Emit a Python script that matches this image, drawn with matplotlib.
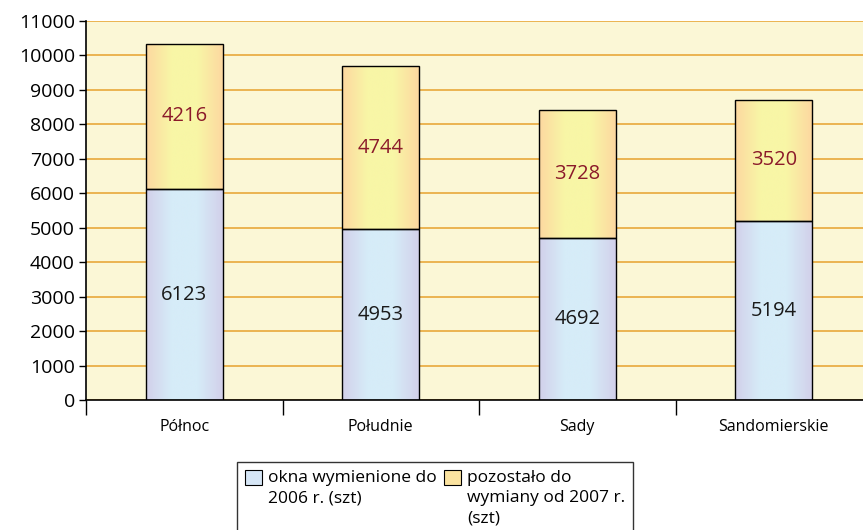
import numpy as np
import matplotlib.pyplot as plt
from matplotlib.colors import LinearSegmentedColormap
from matplotlib.patches import Patch

plt.rcParams['font.family'] = ['Open Sans', 'DejaVu Sans']

categories = ['Północ', 'Południe', 'Sady', 'Sandomierskie']
replaced = [6123, 4953, 4692, 5194]
remaining = [4216, 4744, 3728, 3520]
series_names = ['okna wymienione do\n2006 r. (szt)', 'pozostało do\nwymiany od 2007 r.\n(szt)']

blue_cmap = LinearSegmentedColormap.from_list('b', ['#d2d0ea', '#d6ecf8', '#d6ecf8', '#d2d0ea'])
orange_cmap = LinearSegmentedColormap.from_list('o', ['#fdd8a0', '#f8f6a6', '#f8f6a6', '#fdd8a0'])

fig = plt.figure(figsize=(8.63, 5.30), dpi=100)
ax = fig.add_axes([86 / 863, 1 - 400 / 530, 786 / 863, 379 / 530])
ax.set_facecolor('#fbf7d6')

x = np.arange(len(categories))
w = 0.39
b1 = ax.bar(x, replaced, w, facecolor='none', edgecolor='black', linewidth=1, zorder=3)
b2 = ax.bar(x, remaining, w, bottom=replaced, facecolor='none', edgecolor='black', linewidth=1, zorder=3)

# gradient w słupkach
grad = np.linspace(0, 1, 256).reshape(1, -1)
for bars, cmap in [(b1, blue_cmap), (b2, orange_cmap)]:
    for p in bars:
        x0, y0 = p.get_x(), p.get_y()
        im = ax.imshow(grad, cmap=cmap, aspect='auto', zorder=2,
                       extent=[x0, x0 + p.get_width(), y0, y0 + p.get_height()])
        im.set_clip_path(p)

# wartości na słupkach
for i in range(len(categories)):
    ax.text(x[i], replaced[i] / 2, str(replaced[i]), ha='center', va='center',
            fontsize=14.5, color='#1a1a1a', zorder=4)
    ax.text(x[i], replaced[i] + remaining[i] / 2, str(remaining[i]), ha='center', va='center',
            fontsize=14.5, color='#8b1a2a', zorder=4)

ax.set_xlim(-0.5, 3.5)
ax.set_ylim(0, 11000)
ax.set_yticks(np.arange(0, 11001, 1000))
ax.yaxis.grid(True, color='#e8a83a', linewidth=1.2)
ax.set_axisbelow(True)
ax.tick_params(axis='y', labelsize=14, length=5, width=1, colors='black', pad=3)

ax.set_xticks(np.arange(-0.5, 3.6, 1))
ax.set_xticklabels([])
ax.set_xticks(x, minor=True)
ax.set_xticklabels(categories, minor=True, fontsize=11.5)
ax.tick_params(axis='x', which='major', length=11, width=1)
ax.tick_params(axis='x', which='minor', length=0, pad=14)

for s in ['top', 'right']:
    ax.spines[s].set_visible(False)
ax.spines['left'].set_linewidth(1.2)
ax.spines['bottom'].set_linewidth(1.2)

handles = [Patch(facecolor='#d6e6f6', edgecolor='black', linewidth=0.8),
           Patch(facecolor='#fbe3a0', edgecolor='black', linewidth=0.8)]
leg = fig.legend(handles, series_names, loc='upper left', bbox_to_anchor=(237 / 863, 1 - 462 / 530),
                 ncol=2, fontsize=12.5, frameon=True, fancybox=False, edgecolor='black',
                 handlelength=1.0, handleheight=1.0, handletextpad=0.35, columnspacing=0.4,
                 borderpad=0.45, borderaxespad=0)
leg.get_frame().set_linewidth(1)
for t in leg.get_texts():
    t.set_linespacing(1.35)
# ikonka legendy przy pierwszej linii tekstu, kolumny wyrównane do góry
leg._legend_handle_box.align = 'top'
for col in leg._legend_handle_box.get_children():
    col.align = 'left'
    for row in col.get_children():
        row.align = 'top'

plt.savefig('out.png', dpi=100)
